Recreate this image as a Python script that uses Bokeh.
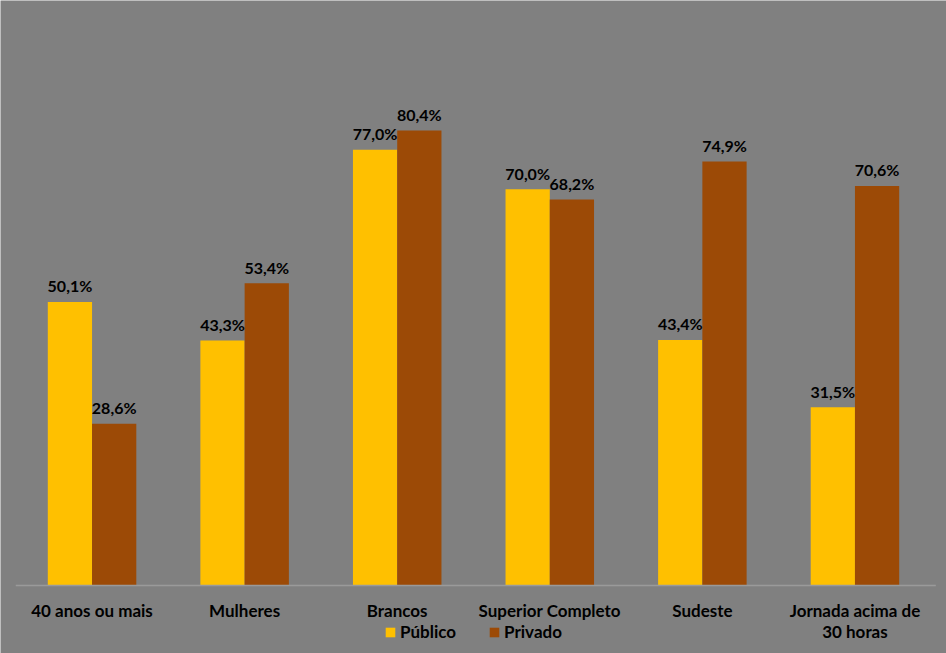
from bokeh.plotting import figure
from bokeh.models import ColumnDataSource, FactorRange, Range1d, Legend, LegendItem
from bokeh.transform import dodge
from bokeh.core.properties import value
from bokeh.embed import file_html
from bokeh.resources import INLINE

categories = ["40 anos ou mais", "Mulheres", "Brancos", "Superior Completo", "Sudeste", "Jornada acima de\n30 horas"]
publico = [50.1, 43.3, 77.0, 70.0, 43.4, 31.5]
privado = [28.6, 53.4, 80.4, 68.2, 74.9, 70.6]
series_names = ["Público", "Privado"]

def fmt(v):
    return f"{v:.1f}%".replace(".", ",")

src = ColumnDataSource(dict(
    cat=categories,
    pub=publico,
    pri=privado,
    pub_lbl=[fmt(v) for v in publico],
    pri_lbl=[fmt(v) for v in privado],
    zero=[0] * len(categories),
))

BG = "#808080"
YEL = "#FFC000"
BRN = "#9C4A06"
FONT = "Lato"

p = figure(width=946, height=653, output_backend="svg", toolbar_location=None,
           x_range=FactorRange(factors=categories, range_padding=0.2 / 6),
           y_range=Range1d(-12.01, 103.36),
           min_border=0, min_border_left=0, min_border_right=0,
           min_border_top=0, min_border_bottom=0)
p.background_fill_color = BG
p.border_fill_color = BG
p.outline_line_color = None
p.xaxis.visible = False
p.yaxis.visible = False
p.xgrid.visible = False
p.ygrid.visible = False

bw = 0.29
r1 = p.vbar(x=dodge("cat", -0.145, range=p.x_range), top="pub", width=bw, source=src,
            fill_color=YEL, line_color=None)
r2 = p.vbar(x=dodge("cat", 0.145, range=p.x_range), top="pri", width=bw, source=src,
            fill_color=BRN, line_color=None)

# baseline
p.segment(x0=[0.0], y0=[0], x1=[6.03], y1=[0], line_color="#9a9a9a", line_width=1.5)

lbl_kw = dict(text_font=value(FONT), text_font_style="bold", text_font_size="16px",
              text_color="#000000", text_align="center", text_baseline="alphabetic",
              y_offset=-16, source=src)
p.text(x=dodge("cat", -0.145, range=p.x_range), y="pub", text="pub_lbl", **lbl_kw)
p.text(x=dodge("cat", 0.145, range=p.x_range), y="pri", text="pri_lbl", **lbl_kw)

# category labels
p.text(x="cat", y="zero", text="cat", source=src, y_offset=14,
       text_font=value(FONT), text_font_style="bold", text_font_size="17px",
       text_color="#000000", text_align="center", text_baseline="top",
       text_line_height=1.0)

legend = Legend(items=[LegendItem(label=series_names[0], renderers=[r1]),
                       LegendItem(label=series_names[1], renderers=[r2])],
                orientation="horizontal", location=(384, 11))
legend.background_fill_alpha = 0
legend.border_line_color = None
legend.padding = 0
legend.margin = 0
legend.spacing = 32
legend.glyph_width = 12
legend.glyph_height = 12
legend.label_height = 14
legend.label_standoff = 4
legend.label_text_font = FONT
legend.label_text_font_style = "bold"
legend.label_text_font_size = "17px"
legend.label_text_color = "#000000"
p.add_layout(legend, "center")

open("out.html", "w").write(file_html(p, INLINE))
